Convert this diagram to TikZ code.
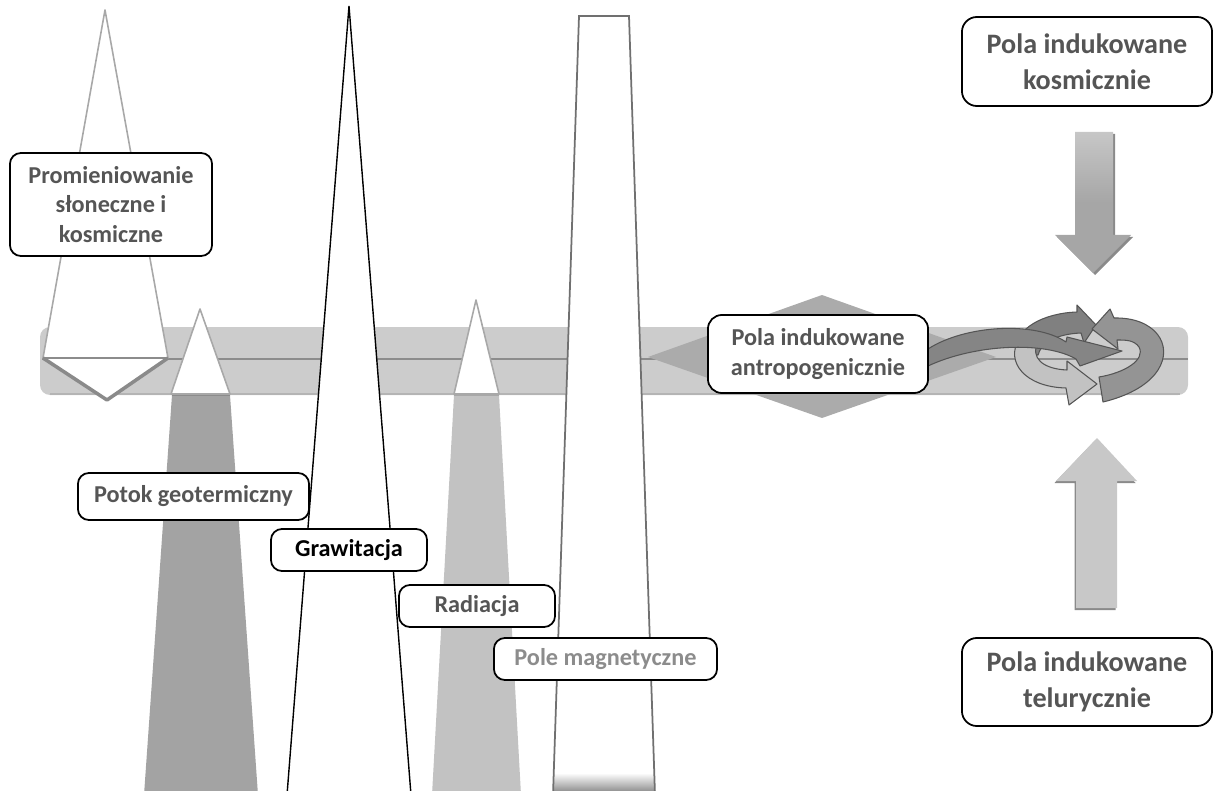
\documentclass[tikz,border=0pt]{standalone}
\usepackage{fontspec}
\setmainfont{Carlito}

\definecolor{bandfill}{HTML}{CCCCCC}
\definecolor{bandline}{HTML}{8C8C8C}
\definecolor{bandedge}{HTML}{B4B4B4}
\definecolor{txt}{HTML}{555555}
\definecolor{txtlight}{HTML}{8C8C8C}
\definecolor{conedge}{HTML}{A8A8A8}
\definecolor{geofill}{HTML}{A3A3A3}
\definecolor{radfill}{HTML}{C2C2C2}
\definecolor{magedge}{HTML}{707070}
\definecolor{diamondfill}{HTML}{ABABAB}
\definecolor{downfill}{HTML}{A6A6A6}
\definecolor{upfill}{HTML}{C8C8C8}
\definecolor{shadowgray}{HTML}{8A8A8A}
\definecolor{ringedge}{HTML}{555555}

\begin{document}
\begin{tikzpicture}[x=0.01cm,y=-0.01cm,
  box/.style={draw=black, line width=0.5pt, fill=white, rounded corners=0.11cm,
    inner sep=0pt, align=center, text=txt,
    font=\bfseries\fontsize{6.9}{8.5}\selectfont},
  bigbox/.style={box, rounded corners=0.15cm,
    font=\bfseries\fontsize{8}{10.2}\selectfont},
  ribbon/.style={draw=ringedge, line width=0.3pt, line join=round},
  cone/.style={draw=conedge, line width=0.45pt, fill=white, line join=round},
]
\useasboundingbox (0,0) rectangle (1215,791);

% horizontal band with its middle line
\fill[bandfill, rounded corners=0.1cm] (40,327) rectangle (1188,395);
\draw[bandedge, line width=0.5pt] (50,394) -- (1180,394);
\draw[bandline, line width=0.75pt] (42,359) -- (1188,359);

% solar and cosmic radiation: tall cone ending in a chevron
\draw[cone] (105,10) -- (168,358) -- (107,400) -- (43,358) -- cycle;
\draw[bandline, line width=0.75pt] (43,358) -- (168,358);
\draw[shadowgray, line width=1pt, line join=round] (43,358) -- (107,400) -- (168,358);

% geothermal flux: white tip above a dark column
\fill[geofill] (172,395) -- (230,395) -- (258,795) -- (144,795) -- cycle;
\draw[bandline, line width=0.8pt] (172,395) -- (230,395);
\draw[cone] (200,309) -- (230,394) -- (171,394) -- cycle;

% radiation: white tip above a light column
\fill[radfill] (454,395) -- (499,395) -- (521,795) -- (432,795) -- cycle;
\draw[conedge, line width=0.8pt] (454,395) -- (499,395);
\draw[cone] (476,300) -- (499,394) -- (454,394) -- cycle;

% gravity: narrow black-edged spike
\filldraw[fill=white, draw=black, line width=0.4pt, line join=miter]
  (349,6) -- (411,795) -- (287,795) -- cycle;

% magnetic field: tall column fading to grey at its foot
\fill[white] (579,16) -- (629,16) -- (655,795) -- (553,795) -- cycle;
\begin{scope}
  \clip (579,16) -- (629,16) -- (655,795) -- (553,795) -- cycle;
  \shade[top color=white, bottom color=black!45] (540,773) rectangle (670,792);
\end{scope}
\draw[magedge, line width=0.5pt] (553,795) -- (579,16) -- (629,16) -- (655,795);

% anthropogenic fields: diamond across the band
\fill[diamondfill] (648,357) -- (822,295) -- (996,357) -- (822,418) -- cycle;

% cosmic-induced fields: downward arrow
\fill[shadowgray] (1077,134) -- (1115,134) -- (1115,237) -- (1133,237)
  -- (1095,275) -- (1057,237) -- (1077,237) -- cycle;
\shade[top color=black!22, bottom color=downfill, middle color=downfill]
  (1075,132) -- (1113,132) -- (1113,235) -- (1131,235)
  -- (1093,273) -- (1055,235) -- (1075,235) -- cycle;

% telluric fields: upward arrow
\fill[shadowgray] (1095.5,440) -- (1135.5,483) -- (1115.5,483) -- (1115.5,610)
  -- (1074.5,610) -- (1074.5,483) -- (1054.5,483) -- cycle;
\fill[upfill] (1097,438) -- (1137,481) -- (1117,481) -- (1117,608)
  -- (1076,608) -- (1076,481) -- (1056,481) -- cycle;

% cycle of arrows on the right end of the band
% dark upper arc, head pointing right
\filldraw[ribbon, fill=black!50]
  (1017,354) .. controls (1012,328) and (1045,313) .. (1077,312)
  -- (1077,305) -- (1096,325) -- (1084,343) -- (1081,333)
  .. controls (1056,334) and (1041,343) .. (1038,355) -- cycle;
% dotted right arc, head pointing left
\filldraw[ribbon, fill=black!42]
  (1092,329) -- (1110,309) -- (1114,318)
  .. controls (1155,317) and (1174,345) .. (1158,370)
  .. controls (1147,387) and (1124,397) .. (1103,402)
  -- (1099,377)
  .. controls (1124,373) and (1146,360) .. (1139,347)
  .. controls (1134,340) and (1126,340) .. (1117,340)
  -- (1118,349) -- cycle;
% light lower arc, head pointing right
\filldraw[ribbon, fill=black!24]
  (1019,339) .. controls (1005,362) and (1025,387) .. (1066,388)
  -- (1069,405) -- (1097,384) -- (1067,361) -- (1067,370)
  .. controls (1043,369) and (1030,358) .. (1038,342) -- cycle;
% dark arc coming from the anthropogenic box
\filldraw[ribbon, fill=black!48]
  (928,349) .. controls (965,325) and (1035,321) .. (1066,342)
  -- (1067,337) -- (1122,351) -- (1080,366) -- (1076,359)
  .. controls (1045,341) and (975,344) .. (928,366) -- cycle;

% labels
\node[box, minimum width=2.02cm, minimum height=1.03cm]
  (solar) at (111,204.5) {Promieniowanie\\słoneczne i\\kosmiczne};
\node[box, minimum width=2.31cm, minimum height=0.47cm]
  (geo) at (193.5,496.5) {Potok geotermiczny};
\node[box, minimum width=1.56cm, minimum height=0.42cm, text=black]
  (grav) at (349,550) {Grawitacja};
\node[box, minimum width=1.56cm, minimum height=0.42cm]
  (rad) at (477,606) {Radiacja};
\node[box, minimum width=2.23cm, minimum height=0.42cm, text=txtlight]
  (mag) at (605.5,659) {Pole magnetyczne};
\node[box, rounded corners=0.14cm, minimum width=2.2cm, minimum height=0.78cm]
  (anthro) at (818,354) {Pola indukowane\\antropogenicznie};
\node[bigbox, minimum width=2.5cm, minimum height=0.89cm]
  (cosmic) at (1087,61.5) {Pola indukowane\\kosmicznie};
\node[bigbox, minimum width=2.5cm, minimum height=0.88cm]
  (telluric) at (1087,682) {Pola indukowane\\telurycznie};
\end{tikzpicture}
\end{document}
